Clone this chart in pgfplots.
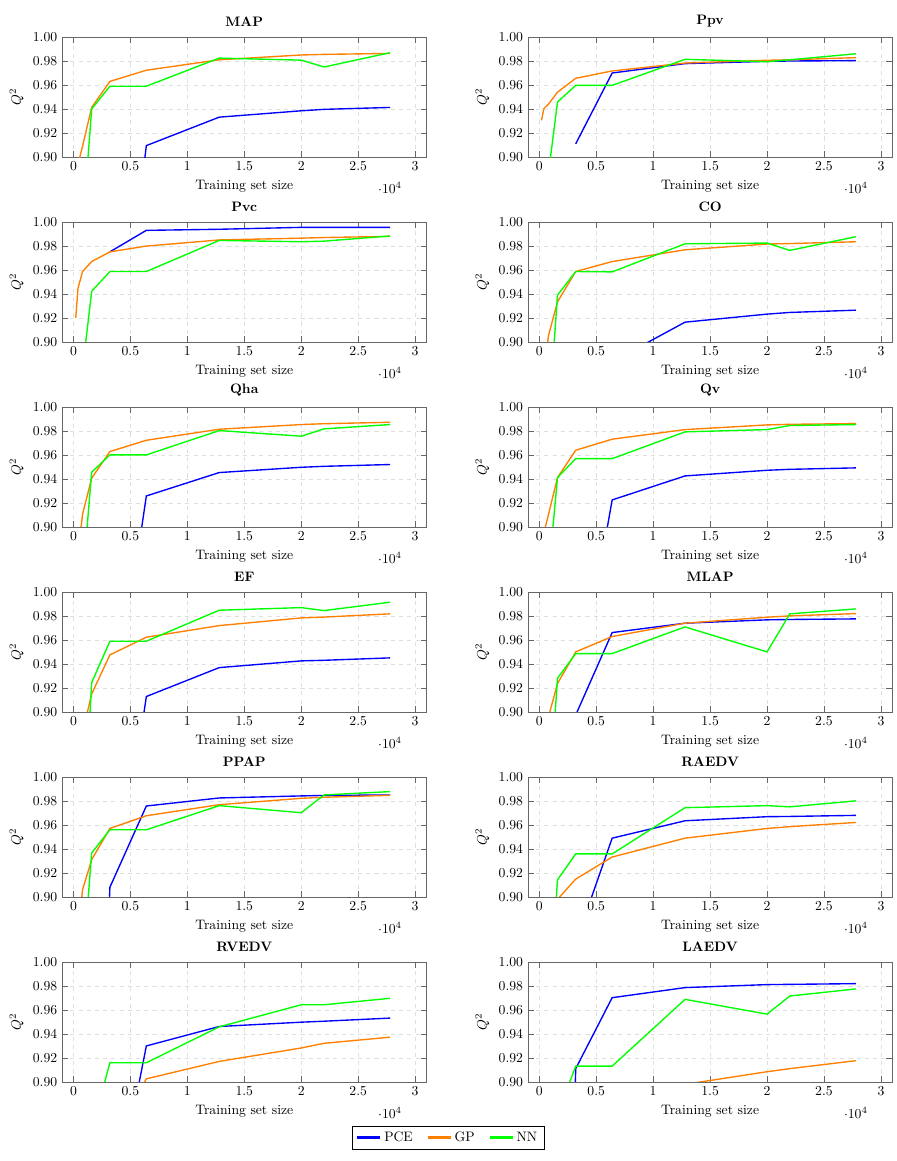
\documentclass[border=0pt]{standalone}
\usepackage{pgfplots}
\pgfplotsset{compat=1.18}
\usepgfplotslibrary{groupplots}
\usetikzlibrary{calc}
\pgfplotsset{
  panel/.style={
    scale only axis, width=266pt, height=87.6pt,
    xmin=-1000, xmax=31000, ymin=0.9, ymax=1.0,
    xtick={0,5000,...,30000},
    ytick={0.90,0.92,...,1.001},
    yticklabel style={/pgf/number format/fixed,/pgf/number format/fixed zerofill,/pgf/number format/precision=2},
    grid=major, major grid style={dashed,gray!25},
    axis line style={gray!80!black},
    tick style={gray!80!black},
    title style={font=\bfseries, yshift=-2pt},
    xlabel={Training set size}, ylabel={$Q^2$},
  },
  pce/.style={color=blue, line width=1pt, no markers},
  gp/.style={color=orange, line width=1pt, no markers},
  nn/.style={color=green, line width=1pt, no markers},
}
\begin{document}
\begin{tikzpicture}
\begin{groupplot}[group style={group size=2 by 6, horizontal sep=74pt, vertical sep=47.4pt}, panel]

% MAP
\nextgroupplot[title={MAP}]
\addplot[pce] coordinates {(3200,0.66) (6400,0.9095) (12800,0.9332) (20000,0.9385) (22000,0.9397) (27800,0.9413)};
\addplot[gp] coordinates {(200,0.80) (400,0.894) (800,0.909) (1600,0.9413) (3200,0.963) (6400,0.9723) (12800,0.981) (20000,0.985) (22000,0.9855) (27800,0.9863)};
\addplot[nn] coordinates {(800,0.84) (1600,0.940) (3200,0.959) (6400,0.959) (12800,0.9824) (20000,0.9807) (22000,0.975) (27800,0.9869)};

% Ppv
\nextgroupplot[title={Ppv}]
\addplot[pce] coordinates {(3200,0.911) (6400,0.970) (12800,0.9778) (20000,0.9797) (22000,0.980) (27800,0.9803)};
\addplot[gp] coordinates {(200,0.9306) (400,0.9403) (800,0.944) (1600,0.954) (3200,0.9656) (6400,0.9717) (12800,0.9783) (20000,0.9806) (22000,0.981) (27800,0.9828)};
\addplot[nn] coordinates {(800,0.886) (1600,0.9458) (3200,0.9597) (6400,0.9597) (12800,0.9814) (20000,0.9794) (22000,0.981) (27800,0.986)};

% Pvc
\nextgroupplot[title={Pvc}]
\addplot[pce] coordinates {(3200,0.9751) (6400,0.993) (12800,0.9939) (20000,0.9955) (22000,0.9955) (27800,0.9955)};
\addplot[gp] coordinates {(200,0.920) (400,0.9447) (800,0.9587) (1600,0.967) (3200,0.9751) (6400,0.9799) (12800,0.985) (20000,0.9865) (22000,0.987) (27800,0.988)};
\addplot[nn] coordinates {(800,0.8773) (1600,0.9422) (3200,0.9587) (6400,0.9587) (12800,0.9846) (20000,0.9835) (22000,0.984) (27800,0.9883)};

% CO
\nextgroupplot[title={CO}]
\addplot[pce] coordinates {(6400,0.8836) (12800,0.9165) (20000,0.9232) (22000,0.9246) (27800,0.9265)};
\addplot[gp] coordinates {(400,0.87) (800,0.905) (1600,0.9335) (3200,0.9587) (6400,0.967) (12800,0.9768) (20000,0.9816) (22000,0.982) (27800,0.9835)};
\addplot[nn] coordinates {(800,0.8314) (1600,0.939) (3200,0.9587) (6400,0.9584) (12800,0.9818) (20000,0.9824) (22000,0.9763) (27800,0.9877)};

% Qha
\nextgroupplot[title={Qha}]
\addplot[pce] coordinates {(3200,0.72) (6400,0.9258) (12800,0.9453) (20000,0.9497) (22000,0.9505) (27800,0.952)};
\addplot[gp] coordinates {(400,0.878) (800,0.9106) (1600,0.9406) (3200,0.9628) (6400,0.9722) (12800,0.9814) (20000,0.9853) (22000,0.986) (27800,0.9872)};
\addplot[nn] coordinates {(800,0.8544) (1600,0.9456) (3200,0.960) (6400,0.960) (12800,0.9803) (20000,0.9756) (22000,0.9817) (27800,0.9853)};

% Qv
\nextgroupplot[title={Qv}]
\addplot[pce] coordinates {(3200,0.751) (6400,0.9225) (12800,0.9425) (20000,0.9472) (22000,0.948) (27800,0.9492)};
\addplot[gp] coordinates {(400,0.895) (800,0.910) (1600,0.9411) (3200,0.9639) (6400,0.9731) (12800,0.9811) (20000,0.985) (22000,0.9855) (27800,0.9861)};
\addplot[nn] coordinates {(800,0.8589) (1600,0.9411) (3200,0.9569) (6400,0.9569) (12800,0.9792) (20000,0.9811) (22000,0.9845) (27800,0.9853)};

% EF
\nextgroupplot[title={EF}]
\addplot[pce] coordinates {(3200,0.708) (6400,0.9128) (12800,0.9369) (20000,0.9425) (22000,0.943) (27800,0.945)};
\addplot[gp] coordinates {(800,0.8826) (1600,0.915) (3200,0.9475) (6400,0.9622) (12800,0.9719) (20000,0.9783) (22000,0.979) (27800,0.9817)};
\addplot[nn] coordinates {(800,0.785) (1600,0.9244) (3200,0.9589) (6400,0.9589) (12800,0.9847) (20000,0.9869) (22000,0.9844) (27800,0.9914)};

% MLAP
\nextgroupplot[title={MLAP}]
\addplot[pce] coordinates {(3200,0.8974) (6400,0.9661) (12800,0.9739) (20000,0.9767) (22000,0.977) (27800,0.9775)};
\addplot[gp] coordinates {(800,0.8955) (1600,0.9236) (3200,0.950) (6400,0.9628) (12800,0.9739) (20000,0.9789) (22000,0.980) (27800,0.9819)};
\addplot[nn] coordinates {(800,0.816) (1600,0.928) (3200,0.9486) (6400,0.9486) (12800,0.9708) (20000,0.950) (22000,0.9817) (27800,0.9858)};

% PPAP
\nextgroupplot[title={PPAP}]
\addplot[pce] coordinates {(1600,0.5) (3200,0.908) (6400,0.9757) (12800,0.9824) (20000,0.9841) (22000,0.9845) (27800,0.9849)};
\addplot[gp] coordinates {(400,0.87) (800,0.9059) (1600,0.931) (3200,0.957) (6400,0.9676) (12800,0.9768) (20000,0.9821) (22000,0.983) (27800,0.9846)};
\addplot[nn] coordinates {(800,0.839) (1600,0.9366) (3200,0.9559) (6400,0.9559) (12800,0.976) (20000,0.9701) (22000,0.9849) (27800,0.9877)};

% RAEDV
\nextgroupplot[title={RAEDV}]
\addplot[pce] coordinates {(3200,0.862) (6400,0.9489) (12800,0.9634) (20000,0.9668) (22000,0.967) (27800,0.9679)};
\addplot[gp] coordinates {(1600,0.8979) (3200,0.9148) (6400,0.9332) (12800,0.9489) (20000,0.957) (22000,0.9585) (27800,0.962)};
\addplot[nn] coordinates {(800,0.8006) (1600,0.9142) (3200,0.9358) (6400,0.9358) (12800,0.9743) (20000,0.976) (22000,0.975) (27800,0.980)};

% RVEDV
\nextgroupplot[title={RVEDV}, legend columns=3,
  legend style={at={(1.059,-0.367)}, anchor=north,
    /tikz/every even column/.append style={column sep=8pt}},
  legend image post style={line width=1.5pt}]
\addplot[pce] coordinates {(3200,0.7756) (6400,0.9299) (12800,0.9461) (20000,0.9497) (22000,0.9505) (27800,0.9531)};
\addplot[gp] coordinates {(3200,0.849) (6400,0.9025) (12800,0.917) (20000,0.9282) (22000,0.9321) (27800,0.9372)};
\addplot[nn] coordinates {(1600,0.8594) (3200,0.9159) (6400,0.9159) (12800,0.9458) (20000,0.9642) (22000,0.9642) (27800,0.9696)};
\legend{PCE,GP,NN}

% LAEDV
\nextgroupplot[title={LAEDV}]
\addplot[pce] coordinates {(1600,0.4) (3200,0.911) (6400,0.9701) (12800,0.9785) (20000,0.981) (22000,0.9812) (27800,0.9818)};
\addplot[gp] coordinates {(12800,0.8979) (20000,0.9084) (22000,0.911) (27800,0.9176)};
\addplot[nn] coordinates {(1600,0.8728) (3200,0.9131) (6400,0.9131) (12800,0.9687) (20000,0.9564) (22000,0.9715) (27800,0.9774)};
\end{groupplot}
\path ($(group c1r1.north west)+(-45.3pt,27pt)$) rectangle ++(654.7pt,-847.4pt);
\end{tikzpicture}
\end{document}
